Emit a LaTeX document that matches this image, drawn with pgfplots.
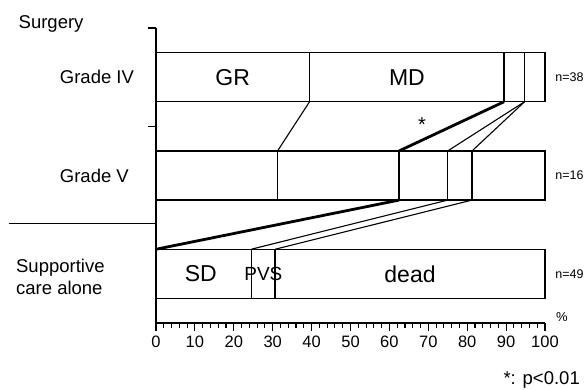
\documentclass[border=0pt]{standalone}
\usepackage{fontspec}
\setmainfont{Liberation Sans}
\usepackage{pgfplots}
\pgfplotsset{compat=1.18}
\newcommand{\fs}[1]{\fontsize{#1bp}{#1bp}\selectfont}
\begin{document}
\begin{tikzpicture}
\pgfplotsset{common/.style={width=389bp,height=295bp,scale only axis,
  xmin=0,xmax=100,ymin=0,ymax=3,enlargelimits=false,at={(0,0)},anchor=south west}}
% bars
\begin{axis}[common, axis lines=left, axis line style={-,line width=1.3bp},
  xbar stacked, bar width=49bp,
  xtick={0,10,...,100}, minor x tick num=4, ytick={2,3}, yticklabels={},
  tick align=outside, major tick length=8bp, minor tick length=5bp,
  every tick/.style={line width=1.1bp, black},
  xticklabel style={font=\fs{16.5}, yshift=-1bp},
  /pgf/number format/assume math mode=true, clip=false]
\addplot[fill=white,draw=black,line width=1.3bp] coordinates {(39.47,2.5) (31.25,1.5) (24.49,0.5)};
\addplot[fill=white,draw=black,line width=1.3bp] coordinates {(50.00,2.5) (31.25,1.5) (6.12,0.5)};
\addplot[fill=white,draw=black,line width=1.3bp] coordinates {(5.26,2.5) (12.50,1.5) (69.39,0.5)};
\addplot[fill=white,draw=black,line width=1.3bp] coordinates {(5.27,2.5) (6.25,1.5) (0,0.5)};
\addplot[fill=white,draw=black,line width=1.3bp] coordinates {(0,2.5) (18.75,1.5) (0,0.5)};
\end{axis}
% connecting lines and labels
\begin{axis}[common, hide axis, clip=false]
\addplot[black,line width=1.1bp] coordinates {(39.47,2.25) (31.25,1.75)};
\addplot[black,line width=2.8bp] coordinates {(89.47,2.25) (62.5,1.75)};
\addplot[black,line width=1.1bp] coordinates {(94.74,2.25) (75,1.75)};
\addplot[black,line width=1.1bp] coordinates {(94.74,2.25) (81.25,1.75)};
\addplot[black,line width=2.8bp] coordinates {(62.5,1.25) (0,0.75)};
\addplot[black,line width=1.1bp] coordinates {(75,1.25) (24.49,0.75)};
\addplot[black,line width=1.1bp] coordinates {(81.25,1.25) (30.61,0.75)};
\addplot[black,line width=1.2bp] coordinates {(-37.8,1.01) (0,1.01)};
% text
\node[anchor=west,font=\fs{18.5}] at (axis cs:-36.2,3.04) {Surgery};
\node[anchor=west,font=\fs{18.5}] at (axis cs:-25.6,2.5) {Grade IV};
\node[anchor=west,font=\fs{18.5}] at (axis cs:-25.6,1.5) {Grade V};
\node[anchor=west,font=\fs{18.5},align=left,inner sep=0pt] at (axis cs:-36.0,0.47) {Supportive\\[4bp]care alone};
\node[font=\fs{23}] at (axis cs:19.7,2.5) {GR};
\node[font=\fs{23}] at (axis cs:64.5,2.5) {MD};
\node[font=\fs{23}] at (axis cs:11.5,0.5) {SD};
\node[font=\fs{19}] at (axis cs:27.6,0.5) {PVS};
\node[font=\fs{23}] at (axis cs:65.3,0.5) {dead};
\node[anchor=west,font=\fs{12.5},inner sep=0pt] at (axis cs:102.6,2.5) {n=38};
\node[anchor=west,font=\fs{12.5},inner sep=0pt] at (axis cs:102.6,1.5) {n=16};
\node[anchor=west,font=\fs{12.5},inner sep=0pt] at (axis cs:102.6,0.5) {n=49};
\node[anchor=west,font=\fs{13},inner sep=0pt] at (axis cs:102.8,0.06) {\%};
\node[font=\fs{20}] at (axis cs:68.4,2.02) {*};
\node[anchor=east,font=\fs{18.5},inner sep=0pt] at (axis cs:109.0,-0.58) {*: p<0.01};
\end{axis}
\pgfresetboundingbox
\path[use as bounding box] (-156bp,-67bp) rectangle (429bp,323bp);
\end{tikzpicture}
\end{document}
